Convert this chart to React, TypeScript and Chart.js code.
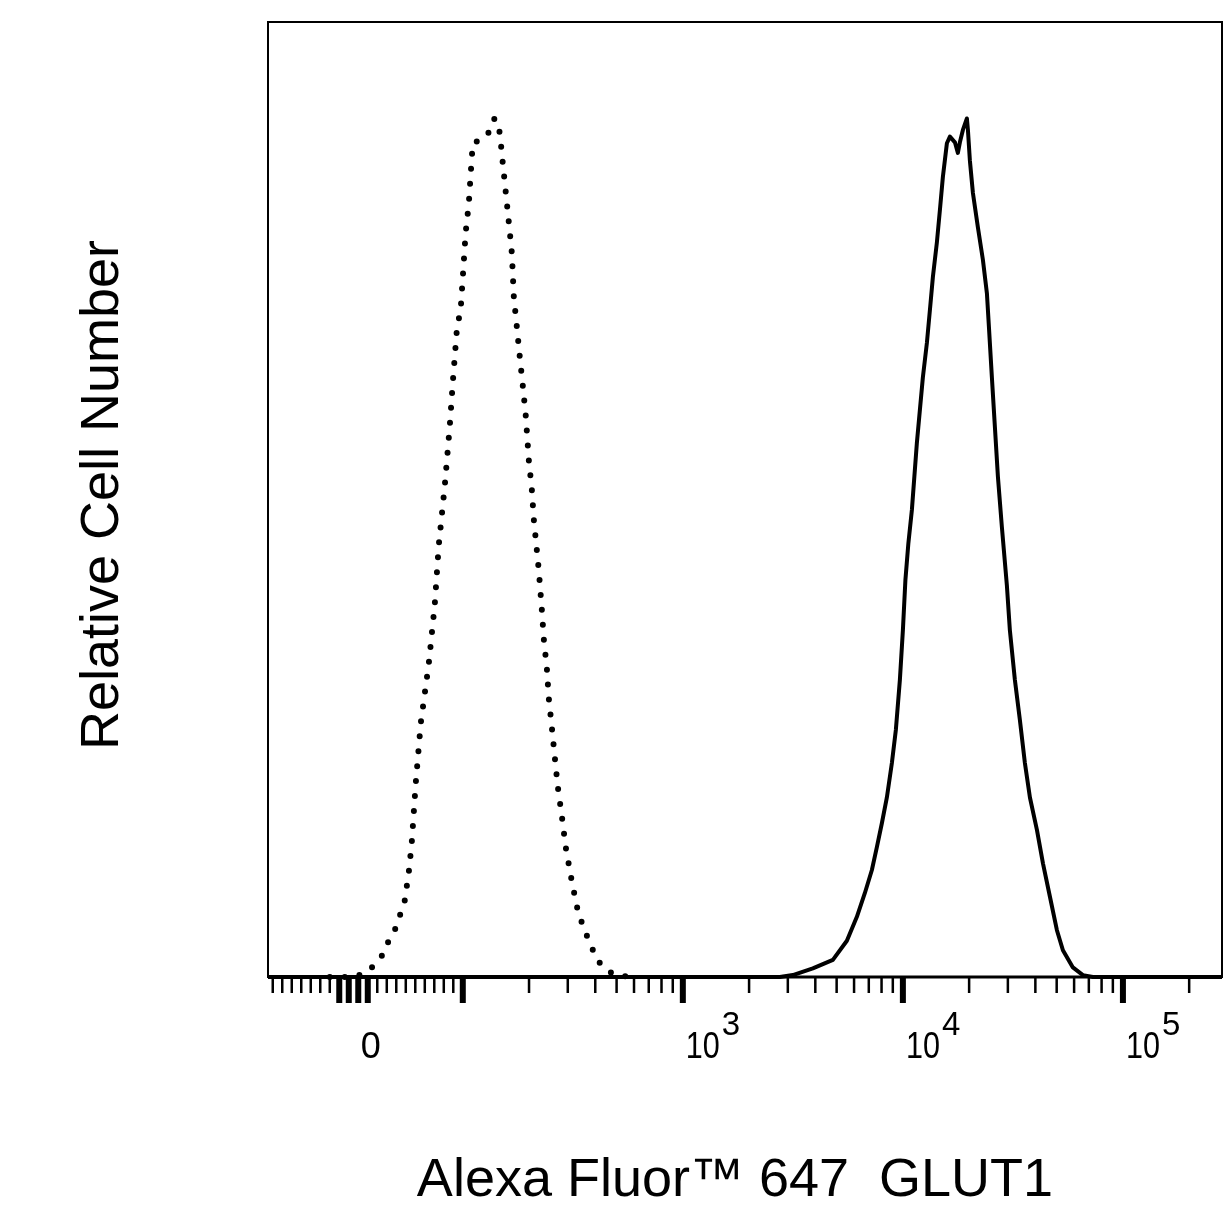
import { useEffect, useRef } from 'react';
import Chart from 'chart.js/auto';

const FONT = '"Liberation Sans", Arial, Helvetica, sans-serif';

const X_TITLE = 'Alexa Fluor™ 647  GLUT1';
const Y_TITLE = 'Relative Cell Number';

// axis range (fluorescence intensity) and relative count range
const X_MIN = -105;
const X_MAX = 282000;
const Y_MAX = 100;

// isotype control (dotted)
const ISO_X = [
  -40, -13.7, -6.3, 4.2, 14.7, 21.1, 28.4, 33.7, 38.9, 43.2, 46.3, 50.5, 55.8, 64.2, 70.5, 74.7,
  81.1, 86.3, 89.5, 93.7, 97.9, 101, 103, 106.5, 108.7, 111, 118.2, 129.9, 135.5, 139.8, 147.3,
  152, 156.9, 161.9, 167.1, 170.6, 176, 181.6, 187.4, 193.4, 199.6, 206, 210.3, 217, 221.5, 228.6,
  233.4, 240.9, 245.9, 253.8, 261.9, 270.3, 281.7, 293.6, 309.5, 329.7, 343.6, 362, 385.5, 410.4,
  456.7, 517.3, 637,
];
const ISO_Y = [
  0, 0, 0.3, 1.0, 2.2, 3.6, 4.9, 6.4, 8.0, 11.0, 14.1, 20.3, 26.6, 32.8, 39.0, 45.2, 51.5, 57.7,
  62.3, 67.7, 70.1, 74.8, 77.9, 81.0, 84.2, 87.3, 87.6, 88.2, 89.5, 89.9, 88.4, 85.2, 82.1, 79.0,
  75.8, 71.2, 68.1, 64.9, 61.9, 58.7, 54.1, 51.0, 47.9, 44.7, 42.6, 38.5, 35.4, 32.4, 29.2, 26.2,
  23.0, 19.9, 16.9, 13.6, 10.6, 7.4, 6.0, 4.6, 3.1, 1.7, 0.6, 0.1, 0,
];

// GLUT1 stained (solid)
const GLUT1_X = [
  -105, 2760, 3162, 3898, 4807, 5566, 6179, 6720, 7230, 7617, 8026, 8458, 8913, 9293, 9690, 10000,
  10270, 10590, 10987, 11575, 11950, 12328, 12857, 13264, 13689, 14270, 14730, 15200, 15850, 16360,
  17240, 17780, 18160, 18740, 19540, 19750, 20160, 20810, 21920, 23100, 24090, 24600, 25380, 26190,
  27030, 28180, 29690, 30640, 32290, 34020, 35850, 37790, 40660, 43310, 46590, 50120, 53370, 59230,
  65790, 73040, 282000,
];
const GLUT1_Y = [
  0, 0, 0.2, 0.9, 1.8, 3.8, 6.3, 8.8, 11.2, 13.6, 16.1, 18.8, 22.4, 25.9, 31.1, 36.3, 41.6, 45.4,
  48.9, 55.9, 59.4, 62.8, 66.4, 69.8, 73.3, 76.9, 80.3, 83.8, 87.3, 88.0, 87.4, 86.3, 87.4, 88.7,
  89.9, 88.7, 85.5, 82.1, 78.5, 75.1, 71.6, 68.1, 62.8, 57.6, 52.4, 47.1, 41.0, 36.3, 31.1, 26.9,
  22.4, 18.8, 15.4, 11.9, 8.4, 4.9, 2.8, 1.0, 0.2, 0, 0,
];

// tick marks
const MAJOR_TICKS = [-30, -20, -10, 0, 100, 1000, 10000, 100000];
const MINOR_TICKS = [
  -100, -90, -80, -70, -60, -50, -40,
  10, 20, 30, 40, 50, 60, 70, 80, 90,
  200, 300, 400, 500, 600, 700, 800, 900,
  2000, 3000, 4000, 5000, 6000, 7000, 8000, 9000,
  20000, 30000, 40000, 50000, 60000, 70000, 80000, 90000,
  200000,
];
const LABEL_VALUES = [0, 1000, 10000, 100000];
const LABEL_BASES = ['0', '10', '10', '10'];
const LABEL_EXPONENTS = ['', '3', '4', '5'];

// linear near zero, logarithmic above (biexponential-like display)
const LIN_LIMIT = 100;
const LIN_SLOPE = 0.95;
const DECADE = 220;
const toDisplay = (v: number) =>
  v <= LIN_LIMIT ? v * LIN_SLOPE : LIN_LIMIT * LIN_SLOPE + DECADE * Math.log10(v / LIN_LIMIT);

const flowAxis = {
  id: 'flowAxis',
  beforeDatasetsDraw(chart: any) {
    const { ctx, chartArea } = chart;
    const { left, right, top, bottom } = chartArea;
    ctx.save();
    ctx.strokeStyle = '#000';
    ctx.lineWidth = 2;
    ctx.strokeRect(left, top, right - left, bottom - top);
    ctx.lineWidth = 3;
    ctx.beginPath();
    ctx.moveTo(left, bottom);
    ctx.lineTo(right, bottom);
    ctx.stroke();
    ctx.restore();
  },
  afterDraw(chart: any) {
    const { ctx, chartArea } = chart;
    const xs = chart.scales.x;
    const bottom = chartArea.bottom;
    ctx.save();
    ctx.strokeStyle = '#000';
    ctx.fillStyle = '#000';
    ctx.lineCap = 'butt';

    ctx.lineWidth = 2.5;
    ctx.beginPath();
    MINOR_TICKS.forEach((v) => {
      const px = xs.getPixelForValue(toDisplay(v));
      ctx.moveTo(px, bottom);
      ctx.lineTo(px, bottom + 16);
    });
    ctx.stroke();

    ctx.lineWidth = 6;
    ctx.beginPath();
    MAJOR_TICKS.forEach((v) => {
      const px = xs.getPixelForValue(toDisplay(v));
      ctx.moveTo(px, bottom);
      ctx.lineTo(px, bottom + 26);
    });
    ctx.stroke();

    // tick labels
    ctx.textBaseline = 'alphabetic';
    LABEL_VALUES.forEach((v, i) => {
      const px = xs.getPixelForValue(toDisplay(v));
      const base = LABEL_BASES[i];
      const exp = LABEL_EXPONENTS[i];
      ctx.font = `36px ${FONT}`;
      if (!exp) {
        ctx.textAlign = 'center';
        ctx.fillText(base, px + 3, bottom + 81);
        return;
      }
      ctx.textAlign = 'left';
      ctx.fillText(base, px + 3, bottom + 81, 34);
      ctx.font = `33px ${FONT}`;
      ctx.fillText(exp, px + 3 + 36, bottom + 58);
    });

    // axis titles
    ctx.font = `54px ${FONT}`;
    ctx.textAlign = 'center';
    ctx.fillText(X_TITLE, 735, 1196);

    ctx.translate(118, 495);
    ctx.rotate(-Math.PI / 2);
    ctx.fillText(Y_TITLE, 0, 0);
    ctx.restore();
  },
};

const App = () => {
  const chartRef = useRef<HTMLCanvasElement>(null);
  const chartInstance = useRef<Chart | null>(null);

  useEffect(() => {
    if (!chartRef.current) return;
    if (chartInstance.current) {
      chartInstance.current.destroy();
    }
    const ctx = chartRef.current.getContext('2d');
    if (!ctx) return;

    chartInstance.current = new Chart(ctx, {
      type: 'line',
      data: {
        datasets: [
          {
            label: 'Isotype control',
            data: ISO_X.map((v, i) => ({ x: toDisplay(v), y: ISO_Y[i] })),
            borderColor: '#000',
            borderWidth: 6,
            borderDash: [0, 15],
            borderCapStyle: 'round',
            pointRadius: 0,
            tension: 0,
            fill: false,
            clip: false,
          },
          {
            label: 'GLUT1',
            data: GLUT1_X.map((v, i) => ({ x: toDisplay(v), y: GLUT1_Y[i] })),
            borderColor: '#000',
            borderWidth: 4,
            borderJoinStyle: 'round',
            pointRadius: 0,
            tension: 0,
            fill: false,
            clip: false,
          },
        ],
      },
      options: {
        animation: false,
        responsive: false,
        parsing: false,
        layout: { padding: { left: 268, right: 8, top: 22, bottom: 253 } },
        scales: {
          x: { type: 'linear', display: false, min: toDisplay(X_MIN), max: toDisplay(X_MAX) },
          y: { type: 'linear', display: false, min: 0, max: Y_MAX },
        },
        plugins: {
          legend: { display: false },
          tooltip: { enabled: false },
        },
      },
      plugins: [flowAxis],
    } as any);

    return () => {
      if (chartInstance.current) {
        chartInstance.current.destroy();
        chartInstance.current = null;
      }
    };
  }, []);

  return (
    <div style={{ position: 'fixed', left: 0, top: 0, width: 1230, height: 1230, background: '#fff' }}>
      <canvas ref={chartRef} width={1230} height={1230} style={{ width: 1230, height: 1230 }} />
    </div>
  );
};

export default App;
